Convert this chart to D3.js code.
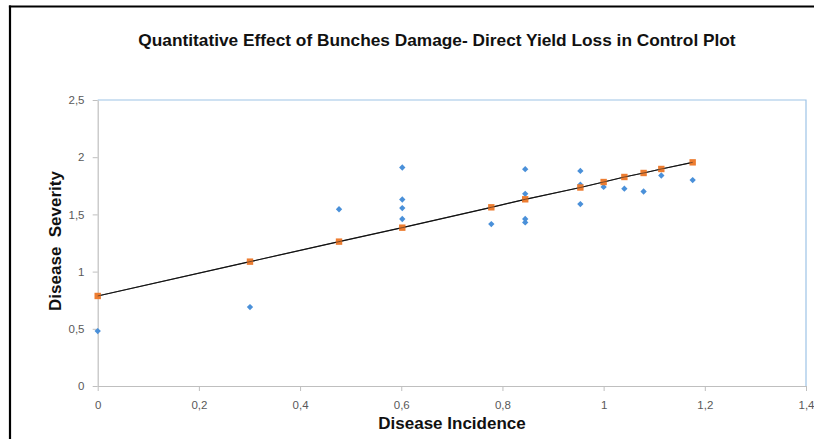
<!DOCTYPE html>
<html><head><meta charset="utf-8">
<script src="https://cdn.jsdelivr.net/npm/d3@7"></script>
<style>html,body{margin:0;padding:0;background:#fff;overflow:hidden;}svg{display:block;}</style>
</head><body>
<svg id="c" width="814" height="439"></svg>
<script>
const title = "Quantitative Effect of Bunches Damage- Direct Yield Loss in Control Plot";
const xLabel = "Disease Incidence";
const yLabel = "Disease  Severity";
// observed points
const obsX = [0, 0.301, 0.477, 0.602, 0.602, 0.602, 0.602, 0.778, 0.845, 0.845, 0.845, 0.845, 0.954, 0.954, 0.954, 1.0, 1.041, 1.079, 1.114, 1.176];
const obsY = [0.48, 0.69, 1.545, 1.91, 1.63, 1.555, 1.46, 1.415, 1.895, 1.68, 1.46, 1.43, 1.88, 1.76, 1.59, 1.74, 1.725, 1.70, 1.84, 1.80];
// predicted (trend) points
const predX = [0, 0.301, 0.477, 0.602, 0.778, 0.845, 0.954, 1.0, 1.041, 1.079, 1.114, 1.176];
const predY = [0.787, 1.087, 1.262, 1.384, 1.562, 1.632, 1.735, 1.783, 1.827, 1.862, 1.897, 1.955];
const xTicks = [0, 0.2, 0.4, 0.6, 0.8, 1, 1.2, 1.4];
const yTicks = [0, 0.5, 1, 1.5, 2, 2.5];

const svg = d3.select("#c");
const L = 97.7, R = 806, T = 100, B = 386;
const x = d3.scaleLinear().domain([0, 1.4]).range([L, R]);
const y = d3.scaleLinear().domain([0, 2.5]).range([B, T]);
const fmt = d => String(d).replace(".", ",");
const font = "Liberation Sans, Arial, sans-serif";

// outer frame (left & top visible)
svg.append("line").attr("x1", 10).attr("y1", 5.4).attr("x2", 10).attr("y2", 439).attr("stroke", "#000").attr("stroke-width", 2.2);
svg.append("line").attr("x1", 8.9).attr("y1", 6.5).attr("x2", 814).attr("y2", 6.5).attr("stroke", "#000").attr("stroke-width", 2.2);

// title
svg.append("text").attr("x", 437).attr("y", 46).attr("text-anchor", "middle")
  .attr("font-family", font).attr("font-weight", "bold")
  .attr("font-size", 17.3).attr("fill", "#111").text(title);

// plot frame top/right (light blue)
svg.append("path").attr("d", `M${L},${T} L${R},${T} L${R},${B}`).attr("fill", "none").attr("stroke", "#9DC3E6").attr("stroke-width", 1.2);

// axes
const gx = svg.append("g").attr("transform", `translate(0,${B})`)
  .call(d3.axisBottom(x).tickValues(xTicks).tickFormat(fmt).tickSize(5).tickSizeOuter(0));
const gy = svg.append("g").attr("transform", `translate(${L},0)`)
  .call(d3.axisLeft(y).tickValues(yTicks).tickFormat(fmt).tickSize(5).tickSizeOuter(0));
[gx, gy].forEach(g => {
  g.select(".domain").attr("stroke", "#BFBFBF").attr("stroke-width", 1.2);
  g.selectAll(".tick line").attr("stroke", "#BFBFBF");
  g.selectAll(".tick text").attr("fill", "#595959").attr("font-size", 11.5)
    .attr("font-family", font);
});
gx.selectAll(".tick text").attr("dy", "1.3em");
gy.selectAll(".tick text").attr("dx", "-0.45em");

// axis titles
svg.append("text").attr("x", 452).attr("y", 429).attr("text-anchor", "middle")
  .attr("font-family", font).attr("font-weight", "bold")
  .attr("font-size", 17).attr("fill", "#111").text(xLabel);
svg.append("text").attr("transform", `translate(61,241) rotate(-90)`).attr("text-anchor", "middle")
  .attr("font-family", font).attr("font-weight", "bold")
  .attr("font-size", 17).attr("fill", "#111").style("white-space", "pre").text(yLabel);

// observed diamonds (square rotated 45°)
svg.append("g").selectAll("path").data(obsX.map((d, i) => [d, obsY[i]])).join("path")
  .attr("transform", d => `translate(${x(d[0])},${y(d[1])}) rotate(45)`)
  .attr("d", d3.symbol(d3.symbolSquare, 20))
  .attr("fill", "#4A90D9");

// trend line
svg.append("path").datum(predX.map((d, i) => [d, predY[i]]))
  .attr("d", d3.line().x(d => x(d[0])).y(d => y(d[1])))
  .attr("fill", "none").attr("stroke", "#000").attr("stroke-width", 1.2);

// predicted squares
svg.append("g").selectAll("rect").data(predX.map((d, i) => [d, predY[i]])).join("rect")
  .attr("x", d => x(d[0]) - 3.2).attr("y", d => y(d[1]) - 3.2)
  .attr("width", 6.4).attr("height", 6.4).attr("fill", "#ED7D31");

// line passes over the squares
svg.append("path").datum(predX.map((d, i) => [d, predY[i]]))
  .attr("d", d3.line().x(d => x(d[0])).y(d => y(d[1])))
  .attr("fill", "none").attr("stroke", "#222").attr("stroke-width", 0.8).attr("opacity", 0.7);
</script>
</body></html>
